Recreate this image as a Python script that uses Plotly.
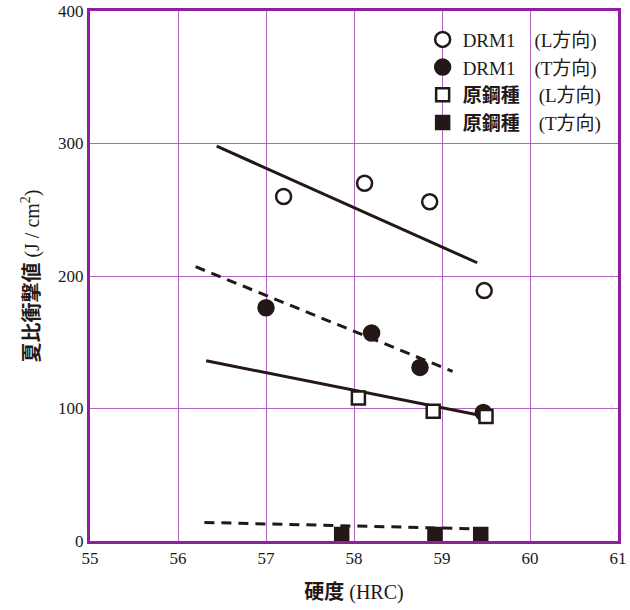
import plotly.graph_objects as go

# ---- data ----
drm1_L_x = [57.2, 58.12, 58.86, 59.48]
drm1_L_y = [260, 270, 256, 189]
drm1_T_x = [57.0, 58.2, 58.75, 59.47]
drm1_T_y = [176, 157, 131, 97]
orig_L_x = [58.05, 58.9, 59.5]
orig_L_y = [108, 98, 94]
orig_T_x = [57.86, 58.92, 59.44]
orig_T_y = [5, 5, 5]

fit_drm1_L_x = [56.44, 59.4]
fit_drm1_L_y = [298, 210]
fit_drm1_T_x = [56.2, 59.12]
fit_drm1_T_y = [207, 128]
fit_orig_L_x = [56.32, 59.5]
fit_orig_L_y = [136, 94]
fit_orig_T_x = [56.3, 59.5]
fit_orig_T_y = [14, 9]

x_ticks = [55, 56, 57, 58, 59, 60, 61]
y_ticks = [0, 100, 200, 300, 400]

names = ["DRM1", "DRM1", "原鋼種", "原鋼種"]
dirs = ["(L方向)", "(T方向)", "(L方向)", "(T方向)"]

INK = "#231815"
BORDER = "#8E1F9E"
GRID = "#B263C4"
FONT = "Liberation Serif, Times New Roman, Noto Sans CJK JP, serif"

fig = go.Figure()

# fit lines
for fx, fy, dash in [
    (fit_drm1_L_x, fit_drm1_L_y, "solid"),
    (fit_drm1_T_x, fit_drm1_T_y, "10px,7px"),
    (fit_orig_L_x, fit_orig_L_y, "solid"),
    (fit_orig_T_x, fit_orig_T_y, "10px,7px"),
]:
    fig.add_trace(go.Scatter(x=fx, y=fy, mode="lines", showlegend=False,
                             line=dict(color=INK, width=3, dash=dash)))

series = [
    (drm1_L_x, drm1_L_y, "circle", 15, "white"),
    (drm1_T_x, drm1_T_y, "circle", 15, INK),
    (orig_L_x, orig_L_y, "square", 13, "white"),
    (orig_T_x, orig_T_y, "square", 13, INK),
]
for i, (sx, sy, sym, sz, fill) in enumerate(series):
    label = names[i] if names[i] == "DRM1" else "<b>" + names[i] + "</b>"
    fig.add_trace(go.Scatter(
        x=sx, y=sy, mode="markers",
        name=label + "\u2003" + dirs[i],
        marker=dict(symbol=sym, size=sz, color=fill,
                    line=dict(color=INK, width=2.5)),
    ))

fig.update_layout(
    width=630, height=610,
    margin=dict(l=90, r=12, t=11, b=69),
    paper_bgcolor="white", plot_bgcolor="white",
    font=dict(family=FONT, size=16, color=INK),
    legend=dict(x=0.63, y=0.982, xanchor="left", yanchor="top",
                bgcolor="rgba(0,0,0,0)", borderwidth=0,
                font=dict(family=FONT, size=19, color=INK),
                tracegroupgap=0, itemwidth=30),
    xaxis=dict(range=[55, 61], tickvals=x_ticks, showgrid=True,
               gridcolor=GRID, gridwidth=1.3, zeroline=False,
               showline=True, linecolor=BORDER, linewidth=3, mirror=True,
               ticks="", automargin=False,
               tickfont=dict(family=FONT, size=17, color=INK),
               title=dict(text="<b>硬度</b> (HRC)", font=dict(family=FONT, size=20, color=INK),
                          standoff=18)),
    yaxis=dict(range=[0, 400], tickvals=y_ticks, showgrid=True,
               gridcolor=GRID, gridwidth=1.3, zeroline=False,
               showline=True, linecolor=BORDER, linewidth=3, mirror=True,
               ticks="", automargin=False,
               tickfont=dict(family=FONT, size=17, color=INK),
               title=dict(text="<b>夏比衝撃値</b> (J / cm<sup>2</sup>)",
                          font=dict(family=FONT, size=20, color=INK), standoff=14)),
)

fig.write_html("out.html", config={"displayModeBar": False},
               post_script="document.body.style.margin='0';")
